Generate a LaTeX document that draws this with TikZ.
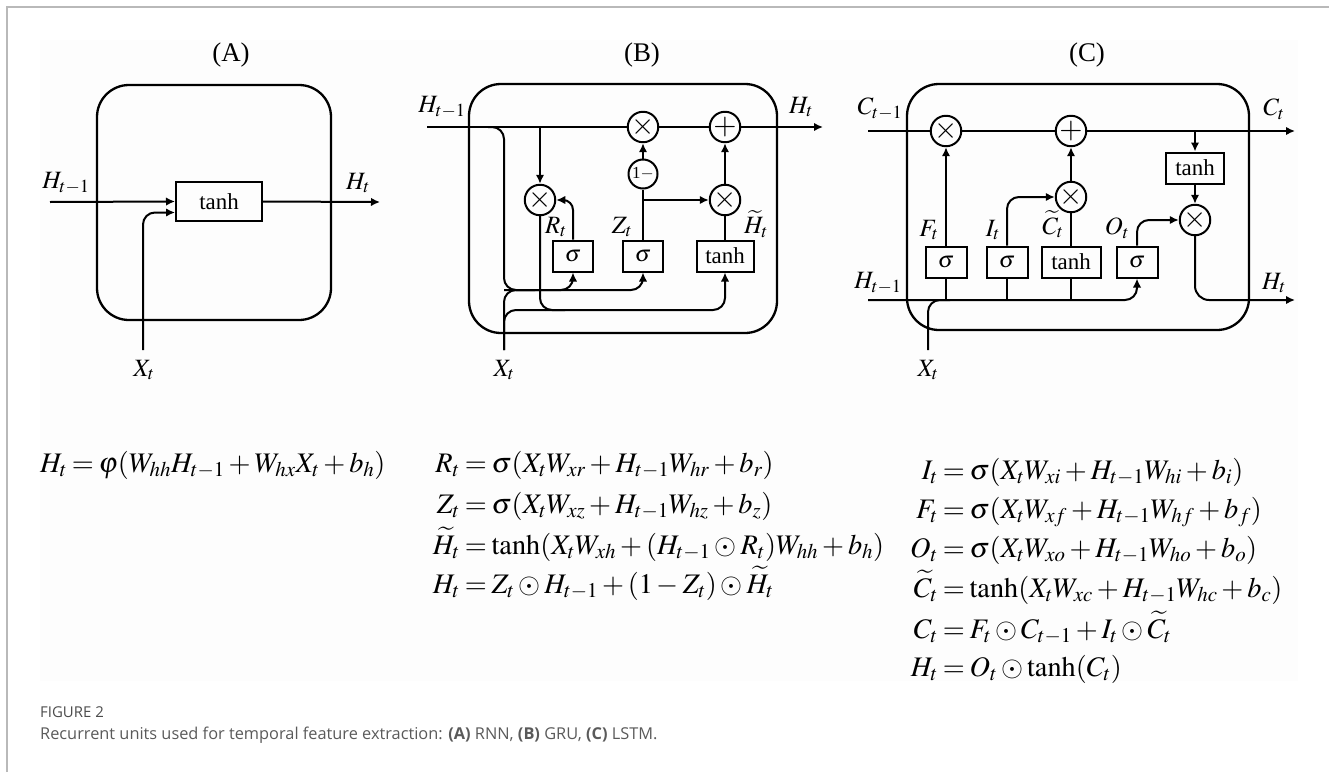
\documentclass[tikz,border=0pt]{standalone}
\usepackage{mathptmx}
\usepackage[no-math]{fontspec}
\setmainfont{Liberation Serif}
\newfontfamily\capfont{Open Sans}
\usetikzlibrary{arrows.meta,calc}
\definecolor{framegray}{RGB}{185,185,185}
\definecolor{capgray}{RGB}{90,90,90}
\definecolor{fignogray}{RGB}{75,75,75}
\definecolor{bggray}{RGB}{253,253,253}
\newcommand\lblf{\fontsize{25}{29}\selectfont}
\newcommand\gatef{\fontsize{23}{27}\selectfont}
\newcommand\eqf{\fontsize{28.4}{32}\selectfont}
\newcommand\eqm[1]{{\thickmuskip=3mu\medmuskip=2.5mu$#1$}}
\begin{document}
\begin{tikzpicture}[x=1bp,y=-1bp,
  ln/.style={line width=2bp},
  arr/.style={ln,-{Latex[length=9bp,width=8.5bp]}},
  op/.style={circle,draw,ln,minimum size=29bp,inner sep=0pt,font=\fontsize{30}{30}\selectfont},
  gate/.style={draw,ln,minimum height=31bp,inner sep=0pt,font=\gatef},
  lbl/.style={font=\lblf,inner sep=0pt},
  ttl/.style={font=\fontsize{27}{31}\selectfont,inner sep=0pt},
  unit/.style={draw,line width=2.3bp,rounded corners=32bp},
  eqn/.style={font=\eqf,inner sep=0pt},
]
\useasboundingbox (0,0) rectangle (1329,772);
\fill[bggray] (40,40) rectangle (1298,681);
\draw[framegray,line width=1.5bp] (7,772) -- (7,7) -- (1329,7);

% ---------------- Panel A ----------------
\node[ttl] (tiA) at (231,55) {(A)};
\draw[unit] (97,85) rectangle (331,320);
\node[gate,minimum width=86bp,minimum height=39bp] (tA) at (219,201.5) {tanh};
\coordinate (hA) at (50,202);
\coordinate (oA) at (380,202);
\coordinate (xA) at (143,350);
\draw[arr] (hA) -- (tA.west);
\draw[arr,rounded corners=12bp] (xA) |- ($(tA.west)+(0,11)$);
\draw[arr] (tA.east) -- (oA);
\node[lbl] (lhA) at (66,183) {$H_{t-1}$};
\node[lbl] (loA) at (358,183) {$H_t$};
\node[lbl] (lxA) at (144,370) {$X_t$};

% ---------------- Panel B ----------------
\node[ttl] (tiB) at (642,55) {(B)};
\draw[unit] (469,84) rectangle (777,333);
\node[op] (m1B) at (643,127) {$\times$};
\node[op] (pB) at (725,127) {$+$};
\node[op,font=\fontsize{17}{17}\selectfont] (omB) at (643,174) {1$-$};
\node[op] (mRB) at (540,200) {$\times$};
\node[op] (mHB) at (725,200) {$\times$};
\node[gate,minimum width=40bp] (sRB) at (573,256) {$\sigma$};
\node[gate,minimum width=40bp] (sZB) at (643,256) {$\sigma$};
\node[gate,minimum width=57bp] (tB) at (725,256) {tanh};
\coordinate (hB) at (427,127);
\coordinate (oB) at (823,127);
\coordinate (xB) at (504,350);
\coordinate (s1B) at (488,127);
\coordinate (b1B) at (504,290);
\coordinate (e1B) at (535,290);
\coordinate (e2B) at (545,310);
\draw[ln] (hB) -- (m1B);
\draw[ln] (m1B) -- (pB);
\draw[arr] (pB) -- (oB);
\draw[arr] (mRB |- hB) -- (mRB);
\draw[arr] (omB) -- (m1B);
\draw[ln] (sZB) -- (omB);
\draw[arr] (sZB |- mHB) -- (mHB);
\draw[arr] (mHB) -- (pB);
\draw[ln] (tB) -- (mHB);
\draw[arr,rounded corners=10bp] (sRB.north) |- (mRB);
\draw[arr,rounded corners=12bp] (s1B) -| (b1B) -| (sRB.south);
\draw[arr,rounded corners=12bp] (b1B) -| (sZB.south);
\draw[ln,rounded corners=12bp] (xB) |- (e1B);
\draw[ln,rounded corners=12bp] (xB) |- (e2B);
\draw[arr,rounded corners=12bp] (e2B) -| (tB.south);
\draw[ln,rounded corners=12bp] (mRB.south) |- ($(e2B)+(20,0)$);
\node[lbl] (lhB) at (442,107) {$H_{t-1}$};
\node[lbl] (loB) at (801,107) {$H_t$};
\node[lbl] (lRB) at (556,227) {$R_t$};
\node[lbl] (lZB) at (622,227) {$Z_t$};
\node[lbl] (lHB) at (756,224) {$\widetilde{H}_t$};
\node[lbl] (lxB) at (504,370) {$X_t$};

% ---------------- Panel C ----------------
\node[ttl] (tiC) at (1087,55) {(C)};
\draw[unit] (907,84) rectangle (1249,330);
\node[op] (mFC) at (946,131) {$\times$};
\node[op] (pC) at (1071,131) {$+$};
\node[op] (mIC) at (1071,197) {$\times$};
\node[gate,minimum width=58bp] (tOC) at (1195,168) {tanh};
\node[op] (mOC) at (1195,220) {$\times$};
\node[gate,minimum width=41bp] (sFC) at (946,262) {$\sigma$};
\node[gate,minimum width=41bp] (sIC) at (1007,262) {$\sigma$};
\node[gate,minimum width=59bp] (tCC) at (1071,262) {tanh};
\node[gate,minimum width=41bp] (sOC) at (1137,262) {$\sigma$};
\coordinate (cinC) at (868,131);
\coordinate (coutC) at (1295,131);
\coordinate (hinC) at (868,300);
\coordinate (houtC) at (1295,300);
\coordinate (xC) at (928,350);
\coordinate (jC) at (950,300);
\draw[ln] (cinC) -- (mFC);
\draw[ln] (mFC) -- (pC);
\draw[arr] (pC) -- (coutC);
\draw[arr] (tOC.north |- cinC) -- (tOC);
\draw[arr] (tOC) -- (mOC);
\draw[arr] (sFC) -- (mFC);
\draw[arr,rounded corners=12bp] (sIC.north) |- (mIC);
\draw[ln] (tCC) -- (mIC);
\draw[arr] (mIC) -- (pC);
\draw[arr,rounded corners=12bp] (sOC.north) |- (mOC);
\draw[arr,rounded corners=14bp] (mOC) |- (houtC);
\draw[arr,rounded corners=12bp] (hinC) -| (sOC.south);
\draw[ln] (sFC.south |- hinC) -- (sFC);
\draw[ln] (sIC.south |- hinC) -- (sIC);
\draw[ln] (tCC.south |- hinC) -- (tCC);
\draw[ln,rounded corners=12bp] (xC) |- (jC);
\node[lbl] (lcC) at (880,109) {$C_{t-1}$};
\node[lbl] (loC) at (1274,109) {$C_t$};
\node[lbl] (lhC) at (878,283) {$H_{t-1}$};
\node[lbl] (lHC) at (1274,283) {$H_t$};
\node[lbl] (lFC) at (929,230) {$F_t$};
\node[lbl] (lIC) at (993,230) {$I_t$};
\node[lbl] (lCC) at (1053,224) {$\widetilde{C}_t$};
\node[lbl] (lOC) at (1117,228) {$O_t$};
\node[lbl] (lxC) at (928,370) {$X_t$};

% ---------------- Equations ----------------
\node[eqn,anchor=base west] (eqA) at (40,472) {\eqm{H_t=\varphi(W_{hh}H_{t-1}+W_{hx}X_t+b_h)}};

\node[eqn,anchor=base east] (eqB1l) at (460,472) {\eqm{R_t}};
\node[eqn,anchor=base west] (eqB1r) at (460,472) {\eqm{{}=\sigma(X_tW_{xr}+H_{t-1}W_{hr}+b_r)}};
\node[eqn,anchor=base east] (eqB2l) at (460,513) {\eqm{Z_t}};
\node[eqn,anchor=base west] (eqB2r) at (460,513) {\eqm{{}=\sigma(X_tW_{xz}+H_{t-1}W_{hz}+b_z)}};
\node[eqn,anchor=base east] (eqB3l) at (460,554) {\eqm{\widetilde{H}_t}};
\node[eqn,anchor=base west] (eqB3r) at (460,554) {\eqm{{}=\tanh(X_tW_{xh}+(H_{t-1}\odot R_t)W_{hh}+b_h)}};
\node[eqn,anchor=base east] (eqB4l) at (460,593) {\eqm{H_t}};
\node[eqn,anchor=base west] (eqB4r) at (460,593) {\eqm{{}=Z_t\odot H_{t-1}+(1-Z_t)\odot \widetilde{H}_t}};

\node[eqn,anchor=base east] (eqC1l) at (938,479) {\eqm{I_t}};
\node[eqn,anchor=base west] (eqC1r) at (938,479) {\eqm{{}=\sigma(X_tW_{xi}+H_{t-1}W_{hi}+b_i)}};
\node[eqn,anchor=base east] (eqC2l) at (938,518) {\eqm{F_t}};
\node[eqn,anchor=base west] (eqC2r) at (938,518) {\eqm{{}=\sigma(X_tW_{xf}+H_{t-1}W_{hf}+b_f)}};
\node[eqn,anchor=base east] (eqC3l) at (938,557) {\eqm{O_t}};
\node[eqn,anchor=base west] (eqC3r) at (938,557) {\eqm{{}=\sigma(X_tW_{xo}+H_{t-1}W_{ho}+b_o)}};
\node[eqn,anchor=base east] (eqC4l) at (938,597) {\eqm{\widetilde{C}_t}};
\node[eqn,anchor=base west] (eqC4r) at (938,597) {\eqm{{}=\tanh(X_tW_{xc}+H_{t-1}W_{hc}+b_c)}};
\node[eqn,anchor=base east] (eqC5l) at (938,638) {\eqm{C_t}};
\node[eqn,anchor=base west] (eqC5r) at (938,638) {\eqm{{}=F_t\odot C_{t-1}+I_t\odot\widetilde{C}_t}};
\node[eqn,anchor=base east] (eqC6l) at (938,676) {\eqm{H_t}};
\node[eqn,anchor=base west] (eqC6r) at (938,676) {\eqm{{}=O_t\odot\tanh(C_t)}};

% ---------------- Caption ----------------
\node[anchor=base west,inner sep=0pt,font=\capfont\fontsize{15}{17}\selectfont,text=fignogray] (figno) at (40,717) {FIGURE 2};
\node[anchor=base west,inner sep=0pt,font=\capfont\fontsize{16.4}{20}\selectfont,text=capgray] (cap) at (40,739) {Recurrent units used for temporal feature extraction: \textbf{(A)} RNN, \textbf{(B)} GRU, \textbf{(C)} LSTM.};
\end{tikzpicture}
\end{document}
